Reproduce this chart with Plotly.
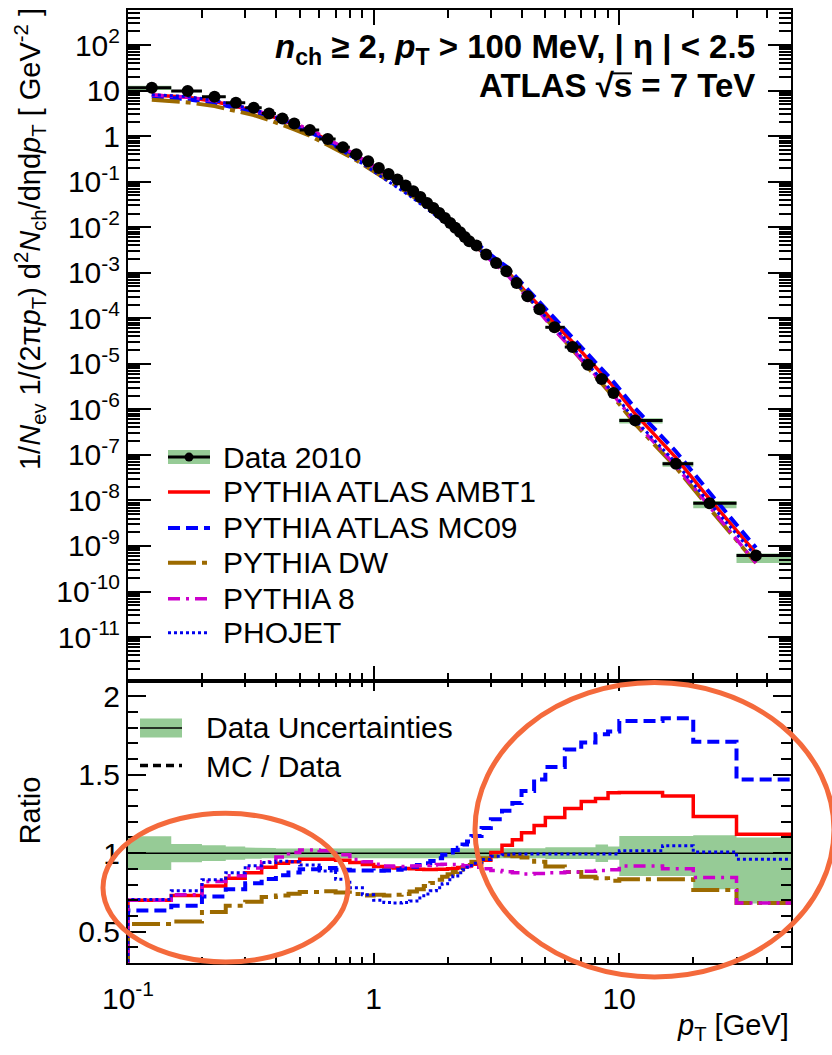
import math
import plotly.graph_objects as go

# ---------------- data ----------------
bin_edges = [0.1, 0.15, 0.2, 0.25, 0.3, 0.35, 0.4, 0.45, 0.5, 0.6, 0.7, 0.8, 0.9, 1.0,
             1.1, 1.2, 1.3, 1.4, 1.5, 1.6, 1.7, 1.8, 1.9, 2.0, 2.1, 2.2, 2.3, 2.4, 2.5,
             2.75, 3.0, 3.33, 3.67, 4.0, 4.5, 5.0, 6.0, 7.0, 8.0, 9.0, 10.0, 15.0, 20.0,
             30.0, 50.0]
pt_mean = [0.125, 0.175, 0.225, 0.275, 0.325, 0.375, 0.425, 0.475, 0.55, 0.65, 0.75,
           0.85, 0.95, 1.05, 1.15, 1.25, 1.35, 1.45, 1.55, 1.65, 1.75, 1.85, 1.95, 2.05,
           2.15, 2.25, 2.35, 2.45, 2.62, 2.87, 3.15, 3.47, 3.82, 4.23, 4.73, 5.45, 6.45,
           7.45, 8.47, 9.47, 11.6, 17.0, 23.3, 36.0]
data_2010 = [11.5, 9.75, 7.3, 5.4, 4.19, 3.15, 2.45, 1.90, 1.36, 0.87, 0.57, 0.40, 0.28,
             0.20, 0.148, 0.112, 0.082, 0.062, 0.046, 0.034, 0.0265, 0.0206, 0.016,
             0.0124, 0.0097, 0.0078, 0.0061, 0.0049, 0.00396, 0.00251, 0.00164, 0.00108,
             5.97e-4, 3.05e-4, 1.58e-4, 6.34e-5, 2.34e-5, 9.6e-6, 4.63e-6, 2.28e-6,
             5.73e-7, 6.4e-8, 8.7e-9, 6.2e-10]
unc_up = [0.108, 0.058, 0.05, 0.042, 0.036, 0.033, 0.03, 0.03, 0.03, 0.03, 0.03, 0.03,
          0.03, 0.03, 0.03, 0.03, 0.03, 0.03, 0.03, 0.03, 0.03, 0.03, 0.03, 0.03, 0.03,
          0.03, 0.03, 0.03, 0.03, 0.03, 0.032, 0.032, 0.032, 0.032, 0.032, 0.037, 0.037,
          0.037, 0.056, 0.042, 0.11, 0.11, 0.115, 0.10]
unc_dn = [0.108, 0.058, 0.05, 0.042, 0.036, 0.033, 0.03, 0.03, 0.03, 0.03, 0.03, 0.03,
          0.03, 0.03, 0.03, 0.03, 0.03, 0.03, 0.03, 0.03, 0.03, 0.03, 0.03, 0.03, 0.03,
          0.03, 0.03, 0.03, 0.03, 0.03, 0.032, 0.032, 0.032, 0.032, 0.032, 0.037, 0.037,
          0.037, 0.056, 0.042, 0.145, 0.145, 0.23, 0.32]

ratio_ambt1 = [0.70, 0.73, 0.79, 0.84, 0.875, 0.91, 0.935, 0.945, 0.962, 0.962, 0.955,
               0.94, 0.928, 0.915, 0.912, 0.905, 0.902, 0.90, 0.898, 0.896, 0.896, 0.897,
               0.898, 0.90, 0.903, 0.908, 0.912, 0.918, 0.93, 0.955, 1.005, 1.05, 1.085,
               1.13, 1.176, 1.227, 1.285, 1.33, 1.348, 1.385, 1.386, 1.365, 1.234, 1.121]
ratio_mc09 = [0.635, 0.665, 0.724, 0.77, 0.809, 0.836, 0.86, 0.877, 0.898, 0.905, 0.895,
              0.89, 0.89, 0.888, 0.89, 0.895, 0.903, 0.913, 0.925, 0.935, 0.95, 0.968,
              0.99, 1.005, 1.02, 1.035, 1.055, 1.075, 1.11, 1.16, 1.217, 1.27, 1.32,
              1.397, 1.47, 1.55, 1.66, 1.705, 1.758, 1.775, 1.843, 1.86, 1.71, 1.47]
ratio_dw = [0.548, 0.565, 0.625, 0.665, 0.69, 0.72, 0.73, 0.742, 0.752, 0.757, 0.75,
            0.74, 0.73, 0.735, 0.73, 0.735, 0.74, 0.755, 0.77, 0.79, 0.81, 0.83, 0.85,
            0.866, 0.88, 0.895, 0.91, 0.925, 0.945, 0.968, 0.98, 0.985, 0.98, 0.972,
            0.945, 0.915, 0.88, 0.85, 0.84, 0.825, 0.834, 0.834, 0.766, 0.682]
ratio_py8 = [0.70, 0.735, 0.82, 0.856, 0.905, 0.945, 0.975, 1.005, 1.02, 1.015, 0.99,
             0.96, 0.945, 0.93, 0.918, 0.915, 0.915, 0.918, 0.92, 0.922, 0.925, 0.928,
             0.93, 0.93, 0.928, 0.925, 0.92, 0.915, 0.91, 0.90, 0.89, 0.882, 0.875,
             0.868, 0.87, 0.875, 0.88, 0.885, 0.89, 0.895, 0.918, 0.90, 0.845, 0.682]
ratio_phojet = [0.705, 0.76, 0.83, 0.875, 0.92, 0.94, 0.948, 0.945, 0.925, 0.887, 0.834,
                0.78, 0.735, 0.70, 0.685, 0.682, 0.685, 0.695, 0.715, 0.74, 0.76, 0.78,
                0.805, 0.83, 0.855, 0.875, 0.895, 0.91, 0.935, 0.96, 0.98, 0.99, 0.995,
                0.995, 0.995, 0.995, 0.995, 0.995, 0.995, 0.995, 1.015, 1.047, 1.008, 0.962]

y_ticks = [1e-11, 1e-10, 1e-9, 1e-8, 1e-7, 1e-6, 1e-5, 1e-4, 1e-3, 1e-2, 1e-1, 1, 10, 100]
y_ticktext = ["10<sup>-11</sup>", "10<sup>-10</sup>", "10<sup>-9</sup>", "10<sup>-8</sup>",
              "10<sup>-7</sup>", "10<sup>-6</sup>", "10<sup>-5</sup>", "10<sup>-4</sup>",
              "10<sup>-3</sup>", "10<sup>-2</sup>", "10<sup>-1</sup>", "1", "10",
              "10<sup>2</sup>"]
x_ticks = [0.1, 1, 10]
x_ticktext = ["10<sup>-1</sup>", "1", "10"]
r_ticks = [0.5, 1, 1.5, 2]
r_ticktext = ["0.5", "1", "1.5", "2"]

mc_names = ["PYTHIA ATLAS AMBT1", "PYTHIA ATLAS MC09", "PYTHIA DW", "PYTHIA 8", "PHOJET"]
mc_ratios = [ratio_ambt1, ratio_mc09, ratio_dw, ratio_py8, ratio_phojet]

# ---------------- styles ----------------
FONT = "Liberation Sans, Arial, Helvetica, sans-serif"
GREEN = "rgb(150,203,150)"
mc_styles = [
    dict(color="#FF0000", width=3.5, dash="solid"),
    dict(color="#0000FF", width=4, dash="12px,6px"),
    dict(color="#9C6A00", width=4, dash="28px,6px,5px,6px"),
    dict(color="#CC00CC", width=3.5, dash="12px,6px,3px,6px"),
    dict(color="#0000EE", width=3, dash="3px,3px"),
]

W, H = 832, 1055
L, R, T, B = 128, 791, 8, 963
SPLIT = 680


def xp(px):
    return (px - L) / (R - L)


def yp(py):
    return (B - py) / (B - T)


top_frac = (B - SPLIT) / (B - T)

fig = go.Figure()

# ---------- top panel ----------
band_x, band_hi, band_lo = [], [], []
for i in range(len(data_2010)):
    band_x += [bin_edges[i], bin_edges[i + 1]]
    band_hi += [data_2010[i] * (1 + unc_up[i])] * 2
    band_lo += [data_2010[i] * (1 - unc_dn[i])] * 2
fig.add_trace(go.Scatter(x=band_x + band_x[::-1], y=band_hi + band_lo[::-1],
                         fill="toself", fillcolor=GREEN, line=dict(width=0),
                         mode="lines", xaxis="x", yaxis="y", showlegend=False,
                         hoverinfo="skip"))

for ratio, st in zip(mc_ratios, mc_styles):
    fig.add_trace(go.Scatter(x=pt_mean, y=[d * r for d, r in zip(data_2010, ratio)],
                             mode="lines", line=st, xaxis="x", yaxis="y",
                             showlegend=False))

err_plus = [bin_edges[i + 1] - pt_mean[i] for i in range(len(pt_mean))]
err_minus = [pt_mean[i] - bin_edges[i] for i in range(len(pt_mean))]
fig.add_trace(go.Scatter(x=pt_mean, y=data_2010, mode="markers",
                         marker=dict(color="black", size=12),
                         error_x=dict(type="data", symmetric=False, array=err_plus,
                                      arrayminus=err_minus, color="black",
                                      thickness=3, width=0),
                         xaxis="x", yaxis="y", showlegend=False))

# ---------- ratio panel ----------
r_hi = [1 + u for u in unc_up]
r_lo = [1 - u for u in unc_dn]
rb_hi, rb_lo = [], []
for i in range(len(data_2010)):
    rb_hi += [r_hi[i]] * 2
    rb_lo += [r_lo[i]] * 2
fig.add_trace(go.Scatter(x=band_x + band_x[::-1], y=rb_hi + rb_lo[::-1],
                         fill="toself", fillcolor=GREEN, line=dict(width=0),
                         mode="lines", xaxis="x2", yaxis="y2", showlegend=False,
                         hoverinfo="skip"))
fig.add_trace(go.Scatter(x=[bin_edges[0], bin_edges[-1]], y=[1, 1], mode="lines",
                         line=dict(color="black", width=1.5), xaxis="x2", yaxis="y2",
                         showlegend=False))

for ratio, st in zip(mc_ratios, mc_styles):
    sx = [bin_edges[0]] + bin_edges[:-1] + [bin_edges[-1]]
    sy = [0] + list(ratio) + [ratio[-1]]
    fig.add_trace(go.Scatter(x=sx, y=sy, mode="lines", line=dict(shape="hv", **st),
                             xaxis="x2", yaxis="y2", showlegend=False))

# ---------- axes ----------
x_minor = [m * 10 ** k for k in (-1, 0, 1) for m in range(2, 10) if m * 10 ** k <= 50]
y_minor = [m * 10 ** k for k in range(-12, 3) for m in range(2, 10)]
r_minor = [round(0.3 + 0.1 * i, 2) for i in range(19) if round(0.3 + 0.1 * i, 2) not in r_ticks]

axis_common = dict(showgrid=False, zeroline=False, showline=True, linecolor="black",
                   linewidth=2, mirror="ticks", ticks="inside", tickcolor="black",
                   tickwidth=1.5, tickfont=dict(family=FONT, size=30, color="black"))
xr = [-1, math.log10(50)]

fig.update_layout(
    width=W, height=H,
    margin=dict(l=L, r=W - R, t=T, b=H - B),
    paper_bgcolor="white", plot_bgcolor="white",
    showlegend=False,
    xaxis=dict(type="log", range=xr, domain=[0, 1], anchor="y", tickvals=x_ticks,
               showticklabels=False, ticklen=15,
               minor=dict(ticks="inside", tickvals=x_minor, ticklen=8,
                          tickcolor="black", tickwidth=1.5),
               **axis_common),
    yaxis=dict(type="log", range=[-11.956, 2.77], domain=[top_frac, 1], anchor="x",
               tickvals=y_ticks, ticktext=y_ticktext, ticklen=23,
               minor=dict(ticks="inside", tickvals=y_minor, ticklen=12,
                          tickcolor="black", tickwidth=1.5),
               **axis_common),
    xaxis2=dict(type="log", range=xr, domain=[0, 1], anchor="y2", tickvals=x_ticks,
                ticktext=x_ticktext, ticklen=10, ticklabelstandoff=8,
                minor=dict(ticks="inside", tickvals=x_minor, ticklen=6,
                           tickcolor="black", tickwidth=1.5),
                **axis_common),
    yaxis2=dict(range=[0.3, 2.1], domain=[0, top_frac], anchor="x2",
                tickvals=r_ticks, ticktext=r_ticktext, ticklen=18,
                minor=dict(ticks="inside", tickvals=r_minor, ticklen=10,
                           tickcolor="black", tickwidth=1.5),
                **axis_common),
)

shapes = []
annotations = []


def txt(text, x, y, size=30, xanchor="left", yanchor="middle", angle=0):
    annotations.append(dict(text=text, x=xp(x), y=yp(y), xref="paper", yref="paper",
                            xanchor=xanchor, yanchor=yanchor, showarrow=False,
                            textangle=angle,
                            font=dict(family=FONT, size=size, color="black")))


def hline(x0, x1, y, color, width, dash="solid"):
    shapes.append(dict(type="line", xref="paper", yref="paper", x0=xp(x0), x1=xp(x1),
                       y0=yp(y), y1=yp(y), line=dict(color=color, width=width, dash=dash)))


# top legend
leg_y = [456, 491, 527, 562, 598, 632]
shapes.append(dict(type="rect", xref="paper", yref="paper", x0=xp(168), x1=xp(210),
                   y0=yp(463), y1=yp(449), fillcolor=GREEN, line=dict(width=0),
                   layer="above"))
hline(168, 210, leg_y[0], "black", 3)
shapes.append(dict(type="circle", xref="paper", yref="paper", x0=xp(184.5), x1=xp(193.5),
                   y0=yp(leg_y[0] + 4.5), y1=yp(leg_y[0] - 4.5), fillcolor="black",
                   line=dict(width=0)))
txt("Data 2010", 221, leg_y[0])
for name, st, yy in zip(mc_names, mc_styles, leg_y[1:]):
    hline(168, 210, yy, st["color"], st["width"], st["dash"])
    txt(name, 221, yy)

# ratio legend
shapes.append(dict(type="rect", xref="paper", yref="paper", x0=xp(140), x1=xp(182),
                   y0=yp(737), y1=yp(718), fillcolor=GREEN, line=dict(width=0)))
hline(140, 182, 727.5, "black", 1.5)
txt("Data Uncertainties", 204, 727)
hline(140, 182, 765, "black", 3.5, "8px,5px")
txt("MC / Data", 204, 766)

# labels
txt("<b><i>n</i><sub>ch</sub> ≥ 2, <i>p</i><sub>T</sub> &gt; 100 MeV, | η | &lt; 2.5</b>",
    757, 47, size=33, xanchor="right")
txt("<b>ATLAS √s = 7 TeV</b>", 757, 84, size=33, xanchor="right")
hline(611, 632, 71.5, "black", 2)   # radical bar over s
txt("1/<i>N</i><sub>ev</sub> 1/(2π<i>p</i><sub>T</sub>) d<sup>2</sup><i>N</i><sub>ch</sub>"
    "/dηd<i>p</i><sub>T</sub> [ GeV<sup>-2</sup> ]",
    30, 4, size=29, xanchor="center", yanchor="top", angle=-90)
txt("Ratio", 30, 810, size=29, xanchor="center", angle=-90)
txt("<i>p</i><sub>T</sub> [GeV]", 791, 1027, size=29, xanchor="right")

# highlight ellipses
ORANGE = "rgb(244,106,60)"
shapes.append(dict(type="circle", xref="paper", yref="paper", x0=xp(103), x1=xp(348),
                   y0=yp(962), y1=yp(813), line=dict(color=ORANGE, width=5)))
shapes.append(dict(type="circle", xref="paper", yref="paper", x0=xp(475), x1=xp(834),
                   y0=yp(977), y1=yp(682), line=dict(color=ORANGE, width=5)))

fig.update_layout(shapes=shapes, annotations=annotations)
fig.write_html("out.html")
